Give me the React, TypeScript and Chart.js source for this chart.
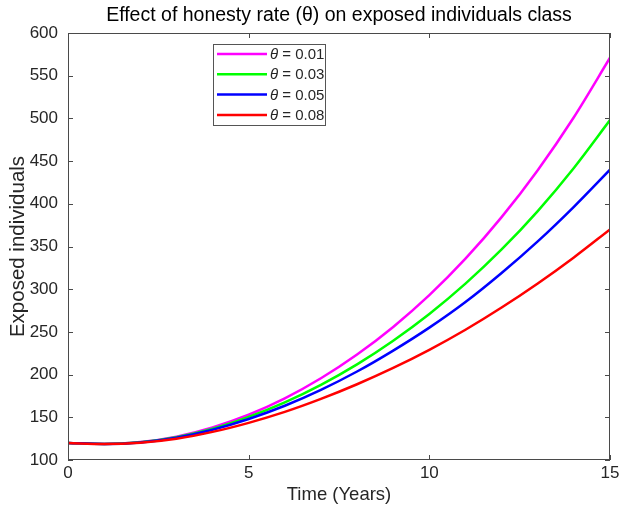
import React, { useEffect, useRef } from "react";
import { Chart, registerables } from "chart.js";

Chart.register(...registerables);

const timeYears = [0, 1, 2, 3, 4, 5, 6, 7, 8, 9, 10, 11, 12, 13, 14, 15];
const theta001 = [120, 118.8, 121, 127.4, 138.2, 153, 172.2, 195.7, 223.5, 255.8, 293, 335.7, 384.4, 439.4, 501.4, 571];
const theta003 = [120, 118.8, 120.8, 126.7, 136.7, 150.5, 167.5, 188, 212, 239.7, 271, 306.5, 346.5, 391.5, 442, 498];
const theta005 = [120, 118.7, 120.6, 126.1, 135.4, 148, 163.5, 182.1, 203.6, 228.1, 255, 285, 319, 356, 396.5, 440];
const theta008 = [120, 118.6, 120.2, 124.9, 132.9, 143.5, 156.3, 171.5, 188.7, 207.8, 229, 252.5, 278.5, 306.7, 337.2, 370];
const seriesValues = [theta001, theta003, theta005, theta008];
const thetaLabels = ["0.01", "0.03", "0.05", "0.08"];
const seriesColors = ["#ff00ff", "#00ff00", "#0000ff", "#ff0000"];
const xTickValues = [0, 5, 10, 15];
const yTickValues = [100, 150, 200, 250, 300, 350, 400, 450, 500, 550, 600];

const FONT = "'Liberation Sans', Arial, Helvetica, sans-serif";
const AXIS_COLOR = "#262626";

const framePlugin = {
  id: "matlabFrame",
  afterDatasetsDraw(chart: any) {
    const { ctx, chartArea: a, scales } = chart;
    const xs = scales.x;
    const ys = scales.y;
    ctx.save();
    ctx.strokeStyle = "#4a4a4a";
    ctx.lineWidth = 1;
    ctx.strokeRect(Math.round(a.left) + 0.5, Math.round(a.top) + 0.5, Math.round(a.right - a.left) - 1, Math.round(a.bottom - a.top) - 1);
    const tl = 5;
    ctx.beginPath();
    xTickValues.forEach((v) => {
      const px = Math.round(xs.getPixelForValue(v)) + 0.5;
      ctx.moveTo(px, a.bottom);
      ctx.lineTo(px, a.bottom - tl);
      ctx.moveTo(px, a.top);
      ctx.lineTo(px, a.top + tl);
    });
    yTickValues.forEach((v) => {
      const py = Math.round(ys.getPixelForValue(v)) + 0.5;
      ctx.moveTo(a.left, py);
      ctx.lineTo(a.left + tl, py);
      ctx.moveTo(a.right, py);
      ctx.lineTo(a.right - tl, py);
    });
    ctx.stroke();

    // legend
    const lx = 213, ly = 44, lw = 112, lh = 81;
    ctx.fillStyle = "#ffffff";
    ctx.fillRect(lx, ly, lw, lh);
    ctx.strokeStyle = "#555555";
    ctx.lineWidth = 1;
    ctx.strokeRect(lx + 0.5, ly + 0.5, lw, lh);
    thetaLabels.forEach((lab, i) => {
      const cy = 54 + i * 20.3;
      ctx.strokeStyle = seriesColors[i];
      ctx.lineWidth = 2.5;
      ctx.beginPath();
      ctx.moveTo(217, cy);
      ctx.lineTo(267, cy);
      ctx.stroke();
      ctx.fillStyle = AXIS_COLOR;
      ctx.textBaseline = "middle";
      ctx.textAlign = "left";
      ctx.font = `italic 15px ${FONT}`;
      ctx.fillText("\u03b8", 270, cy + 1);
      const w = ctx.measureText("\u03b8").width;
      ctx.font = `15px ${FONT}`;
      ctx.fillText(" = " + lab, 270 + w, cy + 1);
    });
    ctx.restore();
  },
};

export default function App() {
  const ref = useRef<HTMLCanvasElement | null>(null);
  useEffect(() => {
    if (!ref.current) return;
    const chart = new Chart(ref.current, {
      type: "line",
      data: {
        datasets: seriesValues.map((vals, i) => ({
          label: "\u03b8 = " + thetaLabels[i],
          data: vals.map((v, j) => ({ x: timeYears[j], y: v })),
          borderColor: seriesColors[i],
          backgroundColor: seriesColors[i],
          borderWidth: 2.5,
          pointRadius: 0,
          cubicInterpolationMode: "monotone" as const,
          order: seriesValues.length - i,
          fill: false,
        })),
      },
      options: {
        responsive: false,
        maintainAspectRatio: false,
        animation: false,
        layout: { padding: { left: 0, right: 15, top: 0, bottom: 0 } },
        plugins: {
          legend: { display: false },
          tooltip: { enabled: false },
          title: {
            display: true,
            text: "Effect of honesty rate (\u03b8) on exposed individuals class",
            fullSize: false,
            color: "#000000",
            font: { family: FONT, size: 19.5, weight: "normal" },
            padding: { top: 4, bottom: 5.6 },
          },
        },
        scales: {
          x: {
            type: "linear",
            min: 0,
            max: 15,
            afterFit: (s: any) => { s.height = 58; },
            afterBuildTicks: (s: any) => { s.ticks = xTickValues.map((v) => ({ value: v })); },
            grid: { display: false, drawTicks: false },
            border: { display: false },
            ticks: { color: AXIS_COLOR, padding: 3, font: { family: FONT, size: 17 } },
            title: {
              display: true,
              text: "Time (Years)",
              color: AXIS_COLOR,
              font: { family: FONT, size: 18.5 },
              padding: { top: 12, bottom: 12 },
            },
          },
          y: {
            type: "linear",
            min: 100,
            max: 600,
            afterFit: (s: any) => { s.width = 68; },
            afterBuildTicks: (s: any) => { s.ticks = yTickValues.map((v) => ({ value: v })); },
            grid: { display: false, drawTicks: false },
            border: { display: false },
            ticks: { color: AXIS_COLOR, padding: 10, font: { family: FONT, size: 17 } },
            title: {
              display: true,
              text: "Exposed individuals",
              color: AXIS_COLOR,
              font: { family: FONT, size: 20.5 },
              padding: { top: 6, bottom: 6 },
            },
          },
        },
      },
      plugins: [framePlugin],
    } as any);
    return () => chart.destroy();
  }, []);
  return (
    <div style={{ position: "absolute", left: 0, top: 0, width: 625, height: 518, background: "#ffffff" }}>
      <canvas ref={ref} width={625} height={518} />
    </div>
  );
}
